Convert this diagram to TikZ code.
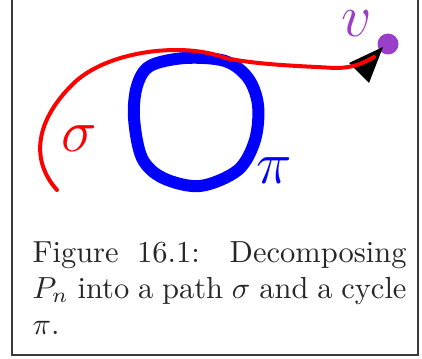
\RequirePackage{fix-cm}
\documentclass[tikz,border=0pt]{standalone}
\usepackage{amsmath}
\usepackage{xcolor}
\usepackage{tikz}
\usetikzlibrary{positioning}
\definecolor{frameg}{HTML}{3A3A3A}
\definecolor{purp}{HTML}{9A40C8}
\colorlet{sigc}{red}
\colorlet{cycc}{blue}

\begin{document}
\begin{tikzpicture}[x=1pt,y=-1pt,
  bigm/.style={inner sep=0pt,font=\fontsize{60}{60}\selectfont},
  capl/.style={anchor=base west,inner sep=0pt,text=black!85,font=\fontsize{10}{12}\selectfont,scale=3.05},
  vdot/.style={circle,fill=purp,minimum size=21pt,inner sep=0pt}]
\useasboundingbox (0,0) rectangle (422,358);
\draw[frameg,line width=1.3pt] (12,-10) rectangle (418,355);

% the cycle pi
\draw[cycc,line width=12pt,line join=round] plot[smooth cycle,tension=0.55] coordinates
 {(134,118) (137,86) (150,66) (185,58) (225,61) (248,78) (258,105) (255,140) (238,170) (200,186) (163,178) (142,158)};
\node[bigm,text=cycc] (pi) at (274,171) {$\pi$};

% the path sigma, ending at v
\node[vdot] (v) at (388,44) {};
\node[bigm,text=purp] (vlab) at (357,24) {$v$};
\fill[black] (349,63) -- (369,83) -- (383,47) -- cycle;
\draw[sigc,line width=4pt,line cap=round] (57,190) .. controls (30,160) and (35,120) .. (75,82)
  .. controls (110,50) and (185,42) .. (225,58) .. controls (260,65) and (300,66) .. (335,68)
  .. controls (355,68) and (365,62) .. (374,57);
\node[bigm,text=sigc] (sig) at (79,139) {$\sigma$};

% caption
\node[capl] (cap1) at (32,262) {\makebox[122.6pt][s]{Figure 16.1: Decomposing}};
\node[capl] (cap2) at (32,298) {\makebox[122.6pt][s]{$P_n$ into a path $\sigma$ and a cycle}};
\node[capl] (cap3) at (32,334) {$\pi$.};
\end{tikzpicture}
\end{document}
